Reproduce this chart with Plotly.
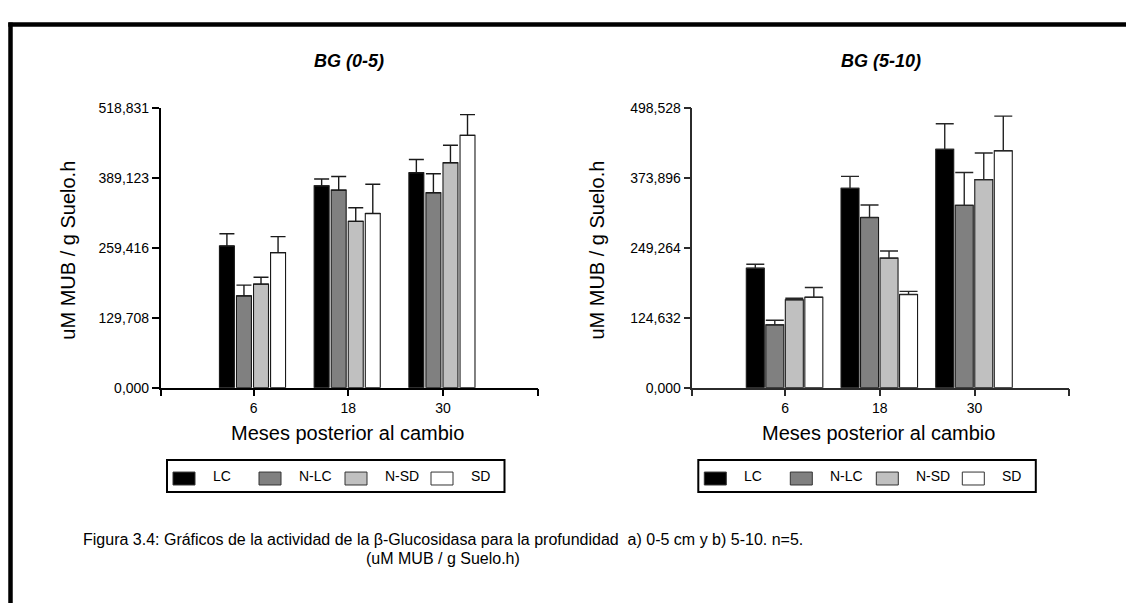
import plotly.graph_objects as go

W, H = 1126, 603
FONT = "Arial, 'Liberation Sans', sans-serif"

# ---- data -------------------------------------------------------------
months = ["6", "18", "30"]
series = ["LC", "N-LC", "N-SD", "SD"]
fills = ["#000000", "#808080", "#c0c0c0", "#ffffff"]

# BG (0-5): mean activity and SE per treatment, at 6, 18 and 30 months
bg05_lc = [262.5, 374.0, 398.3]
bg05_nlc = [170.2, 366.2, 361.3]
bg05_nsd = [191.9, 308.3, 416.9]
bg05_sd = [250.4, 322.8, 467.6]
bg05_lc_err = [22.8, 12.7, 24.6]
bg05_nlc_err = [19.9, 25.3, 35.1]
bg05_nsd_err = [12.7, 25.3, 32.6]
bg05_sd_err = [29.5, 54.3, 38.6]

# BG (5-10)
bg510_lc = [212.7, 354.9, 424.4]
bg510_nlc = [111.9, 303.2, 324.6]
bg510_nsd = [156.6, 230.7, 370.5]
bg510_sd = [161.1, 165.8, 422.0]
bg510_lc_err = [7.0, 21.4, 45.8]
bg510_nlc_err = [8.1, 22.1, 58.6]
bg510_nsd_err = [2.7, 12.8, 47.5]
bg510_sd_err = [17.4, 5.7, 61.6]

bg05_ticks = ["0,000", "129,708", "259,416", "389,123", "518,831"]
bg510_ticks = ["0,000", "124,632", "249,264", "373,896", "498,528"]

y_title = "uM MUB / g Suelo.h"
x_title = "Meses posterior al cambio"
caption_1 = ("Figura 3.4: Gráficos de la actividad de la β-Glucosidasa para la "
             "profundidad  a) 0-5 cm y b) 5-10. n=5.")
caption_2 = "(uM MUB / g Suelo.h)"


def px(x):
    return x / W


def py(y):
    return 1 - y / H


def tick_values(labels):
    return [float(t.replace(",", ".")) for t in labels]


pos = list(range(len(months)))
fig = go.Figure()

panels = [
    dict(xa="x", ya="y", means=[bg05_lc, bg05_nlc, bg05_nsd, bg05_sd],
         errs=[bg05_lc_err, bg05_nlc_err, bg05_nsd_err, bg05_sd_err],
         bw=0.158, start=-0.36, step=0.18, cap=7.5, ecolor="#1a1a1a"),
    dict(xa="x2", ya="y2", means=[bg510_lc, bg510_nlc, bg510_nsd, bg510_sd],
         errs=[bg510_lc_err, bg510_nlc_err, bg510_nsd_err, bg510_sd_err],
         bw=0.19, start=-0.41, step=0.206, cap=9, ecolor="#262626"),
]

for p in panels:
    for i, name in enumerate(series):
        fig.add_trace(go.Bar(
            x=pos, y=p["means"][i], name=name,
            width=p["bw"], offset=p["start"] + i * p["step"],
            marker=dict(color=fills[i], line=dict(color="#1a1a1a", width=1.1)),
            error_y=dict(type="data", symmetric=False, array=p["errs"][i],
                         arrayminus=[0] * len(pos), color=p["ecolor"],
                         thickness=1.4, width=p["cap"]),
            xaxis=p["xa"], yaxis=p["ya"], showlegend=False,
        ))

x_lo, x_hi = -0.98, 3.0
y_dom = [py(390), py(102.5)]


def xaxis_cfg(x0, x1, anchor, color):
    return dict(domain=[px(x0), px(x1)], anchor=anchor, range=[x_lo, x_hi],
                tickmode="array", tickvals=[x_lo] + pos + [x_hi],
                ticktext=[""] + months + [""],
                showline=True, linecolor=color, linewidth=1.5,
                ticks="outside", ticklen=7, tickwidth=1.5, tickcolor=color,
                showgrid=False, zeroline=False,
                tickfont=dict(family=FONT, size=14, color="#000"))


def yaxis_cfg(anchor, labels, color):
    vals = tick_values(labels)
    return dict(domain=y_dom, anchor=anchor, range=[0, vals[-1]],
                tickmode="array", tickvals=vals, ticktext=labels,
                showline=True, linecolor=color, linewidth=1.5,
                ticks="outside", ticklen=7, tickwidth=1.5, tickcolor=color,
                showgrid=False, zeroline=False,
                tickfont=dict(family=FONT, size=14, color="#000"))


ann = []
shapes = []


def add_text(x, y, text, size, angle=0, xanchor="center"):
    ann.append(dict(x=px(x), y=py(y), xref="paper", yref="paper", text=text,
                    showarrow=False, textangle=angle, xanchor=xanchor,
                    yanchor="middle",
                    font=dict(family=FONT, size=size, color="#000")))


# panel titles and axis titles
for title, cx, ytx in [("BG (0-5)", 349, 67.8), ("BG (5-10)", 880.5, 596.7)]:
    add_text(cx, 54, f"<b><i>{title}</i></b>", 18)
    add_text(ytx, 248.5, y_title, 20, angle=-90)
    add_text(cx - 2, 437, x_title, 20)


# key boxes under each panel
def draw_key(bx):
    shapes.append(dict(type="rect", xref="paper", yref="paper",
                       x0=px(bx), x1=px(bx + 337.5), y0=py(497.3), y1=py(464.3),
                       line=dict(color="#000", width=2), fillcolor="#fff"))
    for i, name in enumerate(series):
        sx = bx + 6 + i * 86
        shapes.append(dict(type="rect", xref="paper", yref="paper",
                           x0=px(sx), x1=px(sx + 22), y0=py(490), y1=py(476.7),
                           line=dict(color="#333", width=1), fillcolor=fills[i]))
        add_text(sx + 38, 480.5, name, 14, xanchor="left")


draw_key(167)
draw_key(698.3)

# page frame
shapes.append(dict(type="line", xref="paper", yref="paper",
                   x0=px(8.3), x1=px(1140), y0=py(17), y1=py(17),
                   line=dict(color="#000", width=4.5)))
shapes.append(dict(type="line", xref="paper", yref="paper",
                   x0=px(10.5), x1=px(10.5), y0=py(15), y1=py(620),
                   line=dict(color="#000", width=4.5)))

# caption
add_text(443, 546, caption_1, 16)
add_text(443, 566, caption_2, 16)

fig.update_layout(
    width=W, height=H, margin=dict(l=0, r=0, t=0, b=0),
    paper_bgcolor="#fff", plot_bgcolor="#fff",
    xaxis=xaxis_cfg(160.7, 537.7, "y", "#000"),
    yaxis=yaxis_cfg("x", bg05_ticks, "#000"),
    xaxis2=xaxis_cfg(692.3, 1069.3, "y2", "#2b2b2b"),
    yaxis2=yaxis_cfg("x2", bg510_ticks, "#2b2b2b"),
    annotations=ann, shapes=shapes, showlegend=False,
)

fig.write_html("out.html")
